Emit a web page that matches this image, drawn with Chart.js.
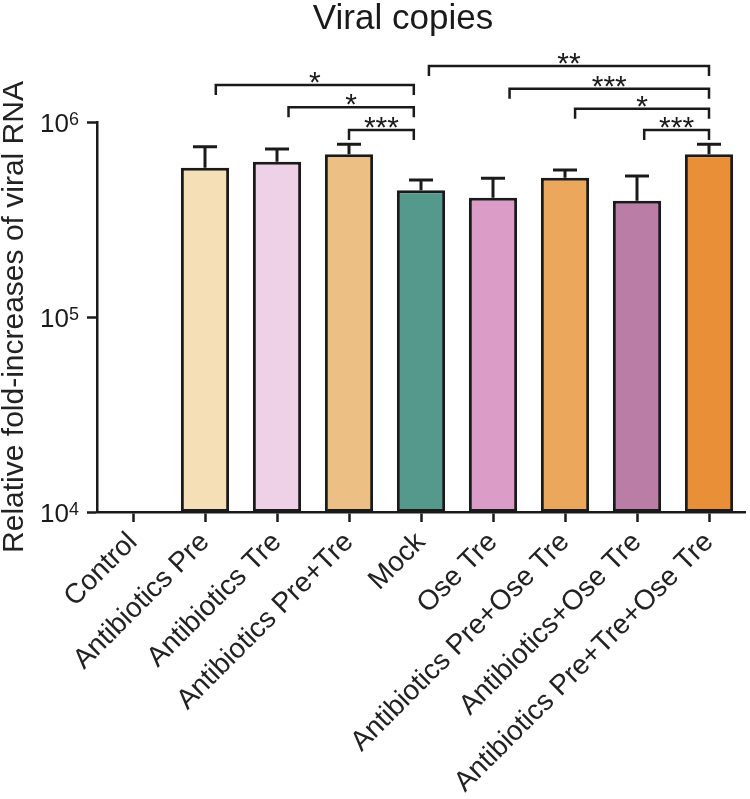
<!DOCTYPE html>
<html>
<head>
<meta charset="utf-8">
<script src="https://cdn.jsdelivr.net/npm/chart.js@4.4.1/dist/chart.umd.min.js"></script>
<style>
html, body { margin: 0; padding: 0; background: #fff; }
</style>
</head>
<body>
<canvas id="chart" width="750" height="799"></canvas>
<script>
var FONT = "'Liberation Sans', Arial, sans-serif";
var INK = '#1a1a1a';

var groups = ["Control", "Antibiotics Pre", "Antibiotics Tre", "Antibiotics Pre+Tre", "Mock",
    "Ose Tre", "Antibiotics Pre+Ose Tre", "Antibiotics+Ose Tre", "Antibiotics Pre+Tre+Ose Tre"];
var means = [null, 583000, 626000, 683000, 447000, 409000, 518000, 395000, 683000];
var errors = [null, 164000, 101000, 86000, 57000, 106000, 49000, 134000, 86000];
var barColors = ['#ffffff', '#F5DFB6', '#EED1E6', '#ECBF84', '#55998C', '#DB9CC7', '#EBA75C', '#B97DA6', '#E98F38'];
var yTicks = [1e4, 1e5, 1e6];
// significance brackets: category positions (fractional) and level on the y scale
var brackets = [
    { from: 1.15, to: 3.9, level: 1.55e6, text: '*' },
    { from: 2.16, to: 3.9, level: 1.19e6, text: '*' },
    { from: 3.0, to: 3.9, level: 9.1e5, text: '***' },
    { from: 4.11, to: 8.0, level: 1.94e6, text: '**' },
    { from: 5.23, to: 8.0, level: 1.48e6, text: '***' },
    { from: 6.14, to: 8.0, level: 1.17e6, text: '*' },
    { from: 7.1, to: 8.0, level: 9.1e5, text: '***' }
];

var extras = {
    id: 'extras',
    afterDatasetsDraw: function (chart) {
        var ctx = chart.ctx;
        var y = chart.scales.y;
        var meta = chart.getDatasetMeta(0);
        ctx.save();
        ctx.strokeStyle = INK;
        ctx.lineWidth = 3;
        meta.data.forEach(function (bar, i) {
            if (means[i] == null) return;
            var top = y.getPixelForValue(means[i] + errors[i]);
            ctx.beginPath();
            ctx.moveTo(bar.x, bar.y);
            ctx.lineTo(bar.x, top);
            ctx.moveTo(bar.x - 12, top);
            ctx.lineTo(bar.x + 12, top);
            ctx.stroke();
        });
        ctx.restore();
    },
    afterDraw: function (chart) {
        var ctx = chart.ctx;
        var x = chart.scales.x;
        var y = chart.scales.y;
        var area = chart.chartArea;
        ctx.save();
        ctx.fillStyle = INK;

        // y tick labels as 10 with superscript exponent
        yTicks.forEach(function (v) {
            var py = y.getPixelForValue(v);
            var right = area.left - 18;
            var exp = String(Math.round(Math.log10(v)));
            ctx.font = '18px ' + FONT;
            ctx.textAlign = 'right';
            ctx.textBaseline = 'alphabetic';
            var w = ctx.measureText(exp).width;
            ctx.fillText(exp, right, py + 3);
            ctx.font = '26px ' + FONT;
            ctx.fillText('10', right - w, py + 10);
        });

        // brackets
        ctx.strokeStyle = INK;
        ctx.lineWidth = 2.5;
        ctx.font = '30px ' + FONT;
        ctx.textAlign = 'center';
        ctx.textBaseline = 'alphabetic';
        brackets.forEach(function (b) {
            var x1 = x.getPixelForValue(b.from);
            var x2 = x.getPixelForValue(b.to);
            var yy = y.getPixelForValue(b.level);
            ctx.beginPath();
            ctx.moveTo(x1, yy + 10);
            ctx.lineTo(x1, yy);
            ctx.lineTo(x2, yy);
            ctx.lineTo(x2, yy + 10);
            ctx.stroke();
            ctx.fillText(b.text, (x1 + x2) / 2, yy + 7);
        });

        // title
        ctx.font = '35px ' + FONT;
        ctx.fillText('Viral copies', 403, 29);
        ctx.restore();
    }
};

new Chart(document.getElementById('chart'), {
    type: 'bar',
    data: {
        labels: groups,
        datasets: [{
            data: means,
            backgroundColor: barColors,
            borderColor: INK,
            borderWidth: 3,
            borderSkipped: false,
            barPercentage: 0.67,
            categoryPercentage: 1.0
        }]
    },
    options: {
        responsive: false,
        animation: false,
        devicePixelRatio: 1,
        layout: { padding: { top: 122, right: 5, left: 0, bottom: 0 } },
        plugins: { legend: { display: false }, tooltip: { enabled: false } },
        scales: {
            x: {
                offset: true,
                grid: { display: true, drawOnChartArea: false, drawTicks: true, offset: false,
                    tickLength: 10, tickWidth: 2.5, tickColor: INK },
                border: { display: true, color: INK, width: 2.5 },
                ticks: { autoSkip: false, minRotation: 45, maxRotation: 45, padding: 4,
                    color: '#222', font: { family: FONT, size: 28 } },
                afterFit: function (s) { s.height = 287; }
            },
            y: {
                type: 'logarithmic',
                min: 1e4,
                max: 1e6,
                afterBuildTicks: function (s) {
                    s.ticks = yTicks.map(function (v) { return { value: v }; });
                },
                ticks: { callback: function () { return ''; } },
                grid: { display: true, drawOnChartArea: false, drawTicks: true,
                    tickLength: 10, tickWidth: 2.5, tickColor: INK },
                border: { display: true, color: INK, width: 2.5 },
                title: { display: true, text: 'Relative fold-increases of viral RNA', color: '#222',
                    font: { family: FONT, size: 30, lineHeight: 1.0 }, padding: { top: 0, bottom: 0 } },
                afterFit: function (s) { s.width = 97; }
            }
        }
    },
    plugins: [extras]
});
</script>
</body>
</html>
